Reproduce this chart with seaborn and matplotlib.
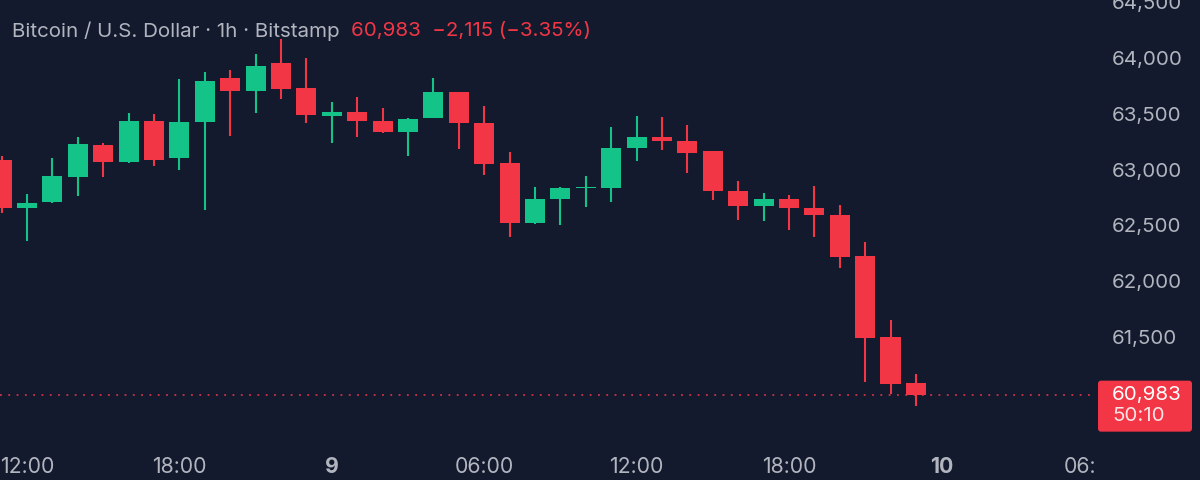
import numpy as np
import pandas as pd
import matplotlib
matplotlib.use("Agg")
import matplotlib.pyplot as plt
import seaborn as sns
from matplotlib.patches import FancyBboxPatch
from matplotlib.transforms import Bbox, TransformedBbox, IdentityTransform

# ---- data (hours after 12:00 on the 8th) ----
hours = list(range(-1, 36))
opens = [63086, 62659, 62707, 62936, 63223, 63071, 63438, 63101, 63424, 63818, 63707, 63958, 63734,
         63478, 63516, 63436, 63337, 63462, 63693, 63418, 63057, 62519, 62734, 62832, 62835, 63191,
         63292, 63259, 63164, 62808, 62671, 62734, 62653, 62596, 62223, 61503, 61085]
highs = [63122, 62781, 63101, 63289, 63234, 63510, 63496, 63812, 63877, 63892, 64036, 64170, 63997,
         63608, 63653, 63555, 63462, 63823, 63695, 63567, 63160, 62844, 62844, 62940, 63382, 63480,
         63467, 63402, 63167, 62901, 62788, 62770, 62851, 62687, 62349, 61652, 61166]
lows = [62611, 62363, 62698, 62763, 62936, 63062, 63035, 62996, 62638, 63301, 63510, 63633, 63415,
        63241, 63295, 63325, 63125, 63458, 63182, 62954, 62396, 62513, 62501, 62665, 62710, 63074,
        63176, 62967, 62725, 62551, 62542, 62456, 62399, 62116, 61094, 60989, 60882]
closes = [62656, 62703, 62943, 63229, 63071, 63438, 63086, 63424, 63794, 63704, 63926, 63720, 63489,
          63516, 63436, 63334, 63456, 63695, 63415, 63050, 62519, 62734, 62838, 62844, 63194, 63292,
          63256, 63146, 62808, 62671, 62739, 62653, 62591, 62217, 61494, 61082, 60983]
price_ticks = [61500, 62000, 62500, 63000, 63500, 64000, 64500]
time_ticks = [0, 6, 12, 18, 24, 30, 36, 42]
time_labels = ["12:00", "18:00", "9", "06:00", "12:00", "18:00", "10", "06:00"]
last_price = 60983
countdown = "50:10"
title_main = "Bitcoin / U.S. Dollar · 1h · Bitstamp"
title_quote = "60,983  \u22122,115 (\u22123.35%)"

BG = "#131a2e"
GRAY = "#b2b5be"
RED = "#f23645"
GREEN = "#14c387"

df = pd.DataFrame(dict(hour=hours, open=opens, high=highs, low=lows, close=closes))
df["up"] = df["close"] >= df["open"]
df["body_lo"] = df[["open", "close"]].min(axis=1)
df["body_h"] = (df["close"] - df["open"]).abs().clip(lower=14)
colors = np.where(df["up"], GREEN, RED)

sns.set_theme(style="dark", rc={"axes.facecolor": BG, "figure.facecolor": BG,
                                "axes.grid": False})
plt.rcParams["font.family"] = ["Inter", "DejaVu Sans"]

fig = plt.figure(figsize=(12, 4.8), dpi=100, facecolor=BG)
W, H = 1200, 480
ax = fig.add_axes([0, 30 / H, 1096 / W, 450 / H])
ax.set_facecolor(BG)

ax.vlines(df["hour"], df["low"], df["high"], colors=colors, lw=1.5, zorder=2)
ax.bar(df["hour"], df["body_h"], bottom=df["body_lo"], width=0.79, color=colors,
       linewidth=0, zorder=3)
ax.axhline(last_price, color=RED, lw=1.3, ls=(0, (1, 3.6)), alpha=0.85, zorder=1)

ax.set_xlim(-1.063, 42.09)
ax.set_ylim(60487, 64520)
for s in ax.spines.values():
    s.set_visible(False)

ax.yaxis.tick_right()
ax.set_yticks(price_ticks, [f"{v:,}" for v in price_ticks])
ax.tick_params(axis="y", length=0, pad=11.5, labelcolor=GRAY, labelsize=14.8)
ax.set_xticks(time_ticks, time_labels)
ax.tick_params(axis="x", length=0, pad=5, labelcolor=GRAY, labelsize=15.3)

clipbox = TransformedBbox(Bbox.from_extents(0, 0, 1096, H), IdentityTransform())
ticks = ax.xaxis.get_major_ticks()
for i, t in enumerate(ticks):
    t.label1.set_clip_box(clipbox)
    t.label1.set_clip_on(True)
    if time_labels[i] in ("9", "10"):
        t.label1.set_fontweight("bold")

# title line
fig.text(12 / W, 1 - 31 / H, title_main, color=GRAY, fontsize=14.8, va="center", ha="left")
fig.text(351 / W, 1 - 31 / H, title_quote, color=RED, fontsize=14.8, va="center", ha="left")

# last price label box
yd = ax.transData.transform((0, last_price))[1]
box = FancyBboxPatch((1100, yd - 35), 90, 47, boxstyle="round,pad=2,rounding_size=3",
                     transform=IdentityTransform(), fc=RED, ec="none", zorder=5)
fig.add_artist(box)
fig.text(1112, yd, f"{last_price:,}", transform=IdentityTransform(), color="white",
         fontsize=14.8, va="center", ha="left", zorder=6)
fig.text(1112, yd - 21, countdown, transform=IdentityTransform(), color="#fde3e6",
         fontsize=14.8, va="center", ha="left", zorder=6)

fig.savefig("out.png", dpi=100, facecolor=BG)
